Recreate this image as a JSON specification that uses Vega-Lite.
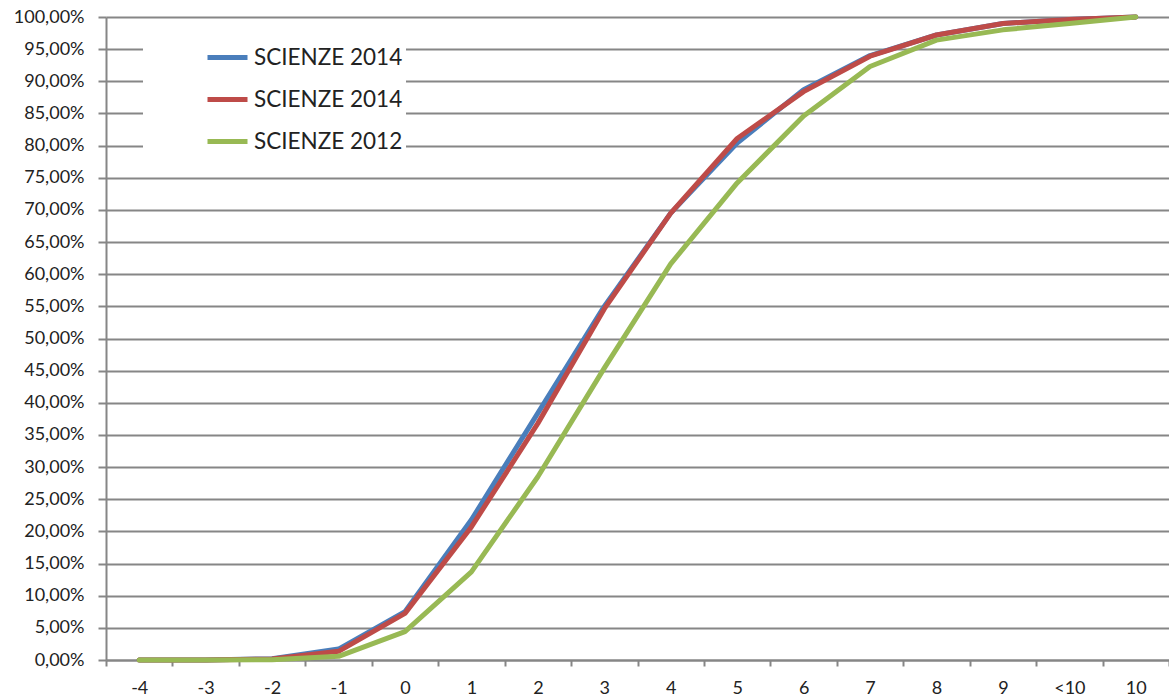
{
  "$schema": "https://vega.github.io/schema/vega-lite/v6.json",
  "width": 1063,
  "height": 643,
  "autosize": {"type": "none"},
  "padding": {"left": 106, "top": 17, "right": 0, "bottom": 38},
  "background": "white",
  "config": {"view": {"stroke": null}, "font": "Lato"},
  "data": {
    "values": [
      {"classe": "-4", "serie": "SCIENZE 2014 (1)", "valore": 0},
      {"classe": "-3", "serie": "SCIENZE 2014 (1)", "valore": 0},
      {"classe": "-2", "serie": "SCIENZE 2014 (1)", "valore": 0.002},
      {"classe": "-1", "serie": "SCIENZE 2014 (1)", "valore": 0.017},
      {"classe": "0", "serie": "SCIENZE 2014 (1)", "valore": 0.075},
      {"classe": "1", "serie": "SCIENZE 2014 (1)", "valore": 0.218},
      {"classe": "2", "serie": "SCIENZE 2014 (1)", "valore": 0.384},
      {"classe": "3", "serie": "SCIENZE 2014 (1)", "valore": 0.55},
      {"classe": "4", "serie": "SCIENZE 2014 (1)", "valore": 0.695},
      {"classe": "5", "serie": "SCIENZE 2014 (1)", "valore": 0.804},
      {"classe": "6", "serie": "SCIENZE 2014 (1)", "valore": 0.887},
      {"classe": "7", "serie": "SCIENZE 2014 (1)", "valore": 0.94},
      {"classe": "8", "serie": "SCIENZE 2014 (1)", "valore": 0.972},
      {"classe": "9", "serie": "SCIENZE 2014 (1)", "valore": 0.99},
      {"classe": "<10", "serie": "SCIENZE 2014 (1)", "valore": 0.996},
      {"classe": "10", "serie": "SCIENZE 2014 (1)", "valore": 1},
      {"classe": "-4", "serie": "SCIENZE 2014 (2)", "valore": 0},
      {"classe": "-3", "serie": "SCIENZE 2014 (2)", "valore": 0},
      {"classe": "-2", "serie": "SCIENZE 2014 (2)", "valore": 0.0015},
      {"classe": "-1", "serie": "SCIENZE 2014 (2)", "valore": 0.0135},
      {"classe": "0", "serie": "SCIENZE 2014 (2)", "valore": 0.0725},
      {"classe": "1", "serie": "SCIENZE 2014 (2)", "valore": 0.207},
      {"classe": "2", "serie": "SCIENZE 2014 (2)", "valore": 0.368},
      {"classe": "3", "serie": "SCIENZE 2014 (2)", "valore": 0.546},
      {"classe": "4", "serie": "SCIENZE 2014 (2)", "valore": 0.695},
      {"classe": "5", "serie": "SCIENZE 2014 (2)", "valore": 0.811},
      {"classe": "6", "serie": "SCIENZE 2014 (2)", "valore": 0.884},
      {"classe": "7", "serie": "SCIENZE 2014 (2)", "valore": 0.939},
      {"classe": "8", "serie": "SCIENZE 2014 (2)", "valore": 0.972},
      {"classe": "9", "serie": "SCIENZE 2014 (2)", "valore": 0.99},
      {"classe": "<10", "serie": "SCIENZE 2014 (2)", "valore": 0.996},
      {"classe": "10", "serie": "SCIENZE 2014 (2)", "valore": 1},
      {"classe": "-4", "serie": "SCIENZE 2012", "valore": 0},
      {"classe": "-3", "serie": "SCIENZE 2012", "valore": 0},
      {"classe": "-2", "serie": "SCIENZE 2012", "valore": 0.0005},
      {"classe": "-1", "serie": "SCIENZE 2012", "valore": 0.0057},
      {"classe": "0", "serie": "SCIENZE 2012", "valore": 0.044},
      {"classe": "1", "serie": "SCIENZE 2012", "valore": 0.137},
      {"classe": "2", "serie": "SCIENZE 2012", "valore": 0.285},
      {"classe": "3", "serie": "SCIENZE 2012", "valore": 0.454},
      {"classe": "4", "serie": "SCIENZE 2012", "valore": 0.616},
      {"classe": "5", "serie": "SCIENZE 2012", "valore": 0.742},
      {"classe": "6", "serie": "SCIENZE 2012", "valore": 0.846},
      {"classe": "7", "serie": "SCIENZE 2012", "valore": 0.923},
      {"classe": "8", "serie": "SCIENZE 2012", "valore": 0.964},
      {"classe": "9", "serie": "SCIENZE 2012", "valore": 0.98},
      {"classe": "<10", "serie": "SCIENZE 2012", "valore": 0.99},
      {"classe": "10", "serie": "SCIENZE 2012", "valore": 1}
    ]
  },
  "mark": {"type": "line", "strokeWidth": 5, "strokeCap": "round", "strokeJoin": "round"},
  "encoding": {
    "x": {
      "field": "classe",
      "type": "ordinal",
      "scale": {
        "type": "band",
        "domain": ["-4", "-3", "-2", "-1", "0", "1", "2", "3", "4", "5", "6", "7", "8", "9", "<10", "10"],
        "paddingInner": 0,
        "paddingOuter": 0
      },
      "axis": {
        "title": null,
        "tickBand": "extent",
        "grid": false,
        "domainColor": "#868686",
        "domainWidth": 2,
        "tickColor": "#868686",
        "tickWidth": 2,
        "tickSize": 6,
        "labelAngle": 0,
        "labelFontSize": 18,
        "labelColor": "#222222",
        "labelPadding": 13
      }
    },
    "y": {
      "field": "valore",
      "type": "quantitative",
      "scale": {"domain": [0, 1], "nice": false},
      "axis": {
        "title": null,
        "values": [0, 0.05, 0.1, 0.15, 0.2, 0.25, 0.3, 0.35, 0.4, 0.45, 0.5, 0.55, 0.6, 0.65, 0.7, 0.75, 0.8, 0.85, 0.9, 0.95, 1],
        "labelExpr": "replace(format(datum.value, '.2%'), '.', ',')",
        "grid": true,
        "gridColor": "#868686",
        "gridWidth": 2,
        "domainColor": "#868686",
        "domainWidth": 2,
        "tickColor": "#868686",
        "tickWidth": 2,
        "tickSize": 8,
        "labelFontSize": 18,
        "labelColor": "#222222",
        "labelPadding": 14
      }
    },
    "color": {
      "field": "serie",
      "type": "nominal",
      "scale": {
        "domain": ["SCIENZE 2014 (1)", "SCIENZE 2014 (2)", "SCIENZE 2012"],
        "range": ["#4A7EBB", "#BE4B48", "#98B954"]
      },
      "legend": {
        "title": null,
        "orient": "none",
        "legendX": 37,
        "legendY": 15,
        "direction": "vertical",
        "fillColor": "white",
        "strokeColor": null,
        "padding": 3,
        "symbolType": "stroke",
        "symbolSize": 1600,
        "symbolStrokeWidth": 5,
        "symbolOffset": 59,
        "labelOffset": 4,
        "labelFontSize": 22.5,
        "labelLimit": 500,
        "labelColor": "#222222",
        "labelExpr": "replace(replace(datum.label, ' (1)', ''), ' (2)', '')",
        "rowPadding": 8
      }
    }
  }
}
